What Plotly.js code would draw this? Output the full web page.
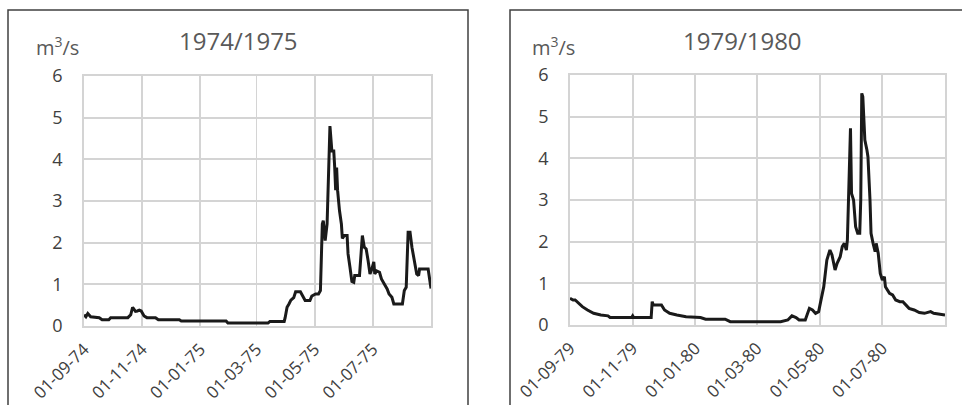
<!DOCTYPE html>
<html>
<head>
<meta charset="utf-8">
<script src="https://cdn.plot.ly/plotly-3.0.1.min.js"></script>
<style>html,body{margin:0;padding:0;background:#fff;}#chart{width:962px;height:405px;}</style>
</head>
<body>
<div id="chart"></div>
<script>
// ---- Data: 1974/1975 ----
const dates7475 = ["1974-09-01","1974-09-03","1974-09-05","1974-09-08","1974-09-17","1974-09-20","1974-09-27","1974-09-29","1974-10-17","1974-10-20","1974-10-22","1974-10-25","1974-10-27","1974-10-29","1974-10-31","1974-11-03","1974-11-06","1974-11-15","1974-11-18","1974-12-10","1974-12-12","1975-01-28","1975-01-30","1975-03-13","1975-03-15","1975-03-30","1975-03-31","1975-04-02","1975-04-04","1975-04-06","1975-04-09","1975-04-11","1975-04-16","1975-04-19","1975-04-21","1975-04-26","1975-04-28","1975-05-02","1975-05-05","1975-05-07","1975-05-09","1975-05-10","1975-05-12","1975-05-14","1975-05-17","1975-05-19","1975-05-21","1975-05-22","1975-05-23","1975-05-24","1975-05-25","1975-05-27","1975-05-29","1975-05-30","1975-06-01","1975-06-04","1975-06-05","1975-06-07","1975-06-09","1975-06-11","1975-06-12","1975-06-17","1975-06-20","1975-06-22","1975-06-24","1975-06-26","1975-06-28","1975-06-30","1975-07-02","1975-07-03","1975-07-05","1975-07-08","1975-07-10","1975-07-13","1975-07-16","1975-07-18","1975-07-21","1975-07-23","1975-08-01","1975-08-03","1975-08-05","1975-08-07","1975-08-09","1975-08-11","1975-08-13","1975-08-16","1975-08-18","1975-08-19","1975-08-28","1975-08-31"];
const flow7475 = [0.27,0.22,0.3,0.22,0.2,0.15,0.15,0.2,0.2,0.27,0.45,0.35,0.36,0.38,0.36,0.24,0.2,0.2,0.15,0.15,0.12,0.12,0.07,0.07,0.11,0.11,0.2,0.45,0.53,0.62,0.68,0.82,0.82,0.7,0.61,0.61,0.72,0.77,0.77,0.85,2.45,2.53,2.05,2.45,4.8,4.2,4.2,3.8,3.26,3.8,3.26,2.77,2.45,2.1,2.17,2.17,1.73,1.41,1.07,1.05,1.21,1.21,2.17,1.89,1.85,1.57,1.25,1.37,1.54,1.25,1.32,1.29,1.13,1.01,0.89,0.77,0.69,0.53,0.53,0.85,0.93,2.25,2.25,1.89,1.65,1.25,1.21,1.37,1.37,0.9];

// ---- Data: 1979/1980 ----
const dates7980 = ["1979-09-01","1979-09-04","1979-09-06","1979-09-09","1979-09-13","1979-09-18","1979-09-24","1979-10-01","1979-10-08","1979-10-10","1979-10-31","1979-11-01","1979-11-02","1979-11-19","1979-11-20","1979-11-21","1979-11-29","1979-12-02","1979-12-07","1979-12-14","1979-12-23","1980-01-06","1980-01-11","1980-01-30","1980-02-04","1980-03-24","1980-03-31","1980-04-04","1980-04-08","1980-04-11","1980-04-17","1980-04-21","1980-04-24","1980-04-27","1980-04-30","1980-05-02","1980-05-05","1980-05-08","1980-05-11","1980-05-13","1980-05-16","1980-05-18","1980-05-21","1980-05-23","1980-05-25","1980-05-27","1980-05-28","1980-05-31","1980-06-01","1980-06-03","1980-06-05","1980-06-07","1980-06-09","1980-06-10","1980-06-11","1980-06-12","1980-06-14","1980-06-16","1980-06-17","1980-06-19","1980-06-20","1980-06-22","1980-06-24","1980-06-25","1980-06-27","1980-06-29","1980-07-01","1980-07-03","1980-07-04","1980-07-08","1980-07-11","1980-07-14","1980-07-18","1980-07-21","1980-07-24","1980-07-27","1980-08-01","1980-08-06","1980-08-11","1980-08-16","1980-08-17","1980-08-20","1980-08-25","1980-08-31"];
const flow7980 = [0.64,0.6,0.6,0.52,0.44,0.36,0.28,0.24,0.22,0.18,0.18,0.22,0.18,0.18,0.56,0.48,0.48,0.36,0.28,0.24,0.2,0.18,0.14,0.14,0.08,0.08,0.12,0.22,0.18,0.12,0.12,0.4,0.36,0.28,0.32,0.56,0.92,1.56,1.8,1.68,1.32,1.48,1.64,1.88,1.96,1.8,2.04,4.72,3.16,3.0,2.36,2.2,2.2,3.0,5.56,5.48,4.44,4.2,4.04,3.0,2.2,1.96,1.76,1.96,1.72,1.24,1.08,1.16,0.92,0.76,0.72,0.6,0.56,0.56,0.48,0.4,0.36,0.3,0.28,0.3,0.32,0.28,0.26,0.24];

// ---- Tick labels ----
const tickVals7475 = ["1974-09-01","1974-11-01","1975-01-01","1975-03-01","1975-05-01","1975-07-01"];
const tickText7475 = ["01-09-74","01-11-74","01-01-75","01-03-75","01-05-75","01-07-75"];
const tickVals7980 = ["1979-09-01","1979-11-01","1980-01-01","1980-03-01","1980-05-01","1980-07-01"];
const tickText7980 = ["01-09-79","01-11-79","01-01-80","01-03-80","01-05-80","01-07-80"];
const titles = ["1974/1975","1979/1980"];
const unitLabel = "m<sup>3</sup>/s";

const W = 962, H = 405;
const px = v => v / W;
const py = v => 1 - v / H;

const FONT = "Open Sans, Noto Sans, sans-serif";
const gridC = "#d4d4d4";

function xaxisCfg(domain, range, vals, text) {
  return {
    domain: domain, range: range, type: "date",
    tickvals: vals, ticktext: text, tickangle: -45,
    showgrid: true, gridcolor: gridC, gridwidth: 1.8,
    showline: true, linecolor: gridC, linewidth: 1.8, mirror: true,
    zeroline: false, ticks: "", ticklabelstandoff: 5,
    tickfont: {family: FONT, size: 17, color: "#404040"},
    fixedrange: true
  };
}
function yaxisCfg(domain, anchor) {
  return {
    domain: domain, range: [0, 6], dtick: 1, anchor: anchor,
    showgrid: true, gridcolor: gridC, gridwidth: 1.8,
    showline: true, linecolor: gridC, linewidth: 1.8, mirror: true,
    zeroline: false, ticks: "", ticklabelstandoff: 16,
    tickfont: {family: FONT, size: 18, color: "#404040"},
    fixedrange: true
  };
}

const traces = [
  {x: dates7475, y: flow7475, type: "scatter", mode: "lines", xaxis: "x", yaxis: "y",
   line: {color: "#1a1a1a", width: 3}, showlegend: false, hoverinfo: "skip"},
  {x: dates7980, y: flow7980, type: "scatter", mode: "lines", xaxis: "x2", yaxis: "y2",
   line: {color: "#1a1a1a", width: 3}, showlegend: false, hoverinfo: "skip"}
];

const layout = {
  width: W, height: H,
  margin: {l: 0, r: 0, t: 0, b: 0},
  paper_bgcolor: "#ffffff", plot_bgcolor: "#ffffff",
  showlegend: false,
  xaxis: xaxisCfg([px(84), px(431)], ["1974-09-01", "1975-08-31"], tickVals7475, tickText7475),
  yaxis: yaxisCfg([py(326), py(76)], "x"),
  xaxis2: Object.assign(xaxisCfg([px(570), px(945)], ["1979-09-01", "1980-08-31"], tickVals7980, tickText7980), {anchor: "y2"}),
  yaxis2: yaxisCfg([py(325), py(75)], "x2"),
  shapes: [
    {type: "rect", xref: "paper", yref: "paper", x0: px(8), x1: px(468), y0: py(430), y1: py(10),
     line: {color: "#404040", width: 1.5}, fillcolor: "rgba(0,0,0,0)", layer: "below"},
    {type: "rect", xref: "paper", yref: "paper", x0: px(510), x1: px(990), y0: py(430), y1: py(10),
     line: {color: "#404040", width: 1.5}, fillcolor: "rgba(0,0,0,0)", layer: "below"}
  ],
  annotations: [
    {text: titles[0], xref: "paper", yref: "paper", x: px(238), y: py(41), showarrow: false,
     xanchor: "center", yanchor: "middle", font: {family: FONT, size: 24, color: "#595959"}},
    {text: titles[1], xref: "paper", yref: "paper", x: px(742), y: py(40), showarrow: false,
     xanchor: "center", yanchor: "middle", font: {family: FONT, size: 24, color: "#595959"}},
    {text: unitLabel, xref: "paper", yref: "paper", x: px(57), y: py(47), showarrow: false,
     xanchor: "center", yanchor: "middle", font: {family: FONT, size: 20, color: "#595959"}},
    {text: unitLabel, xref: "paper", yref: "paper", x: px(553), y: py(46), showarrow: false,
     xanchor: "center", yanchor: "middle", font: {family: FONT, size: 20, color: "#595959"}}
  ]
};

Plotly.newPlot("chart", traces, layout, {staticPlot: true, displayModeBar: false});
</script>
</body>
</html>
